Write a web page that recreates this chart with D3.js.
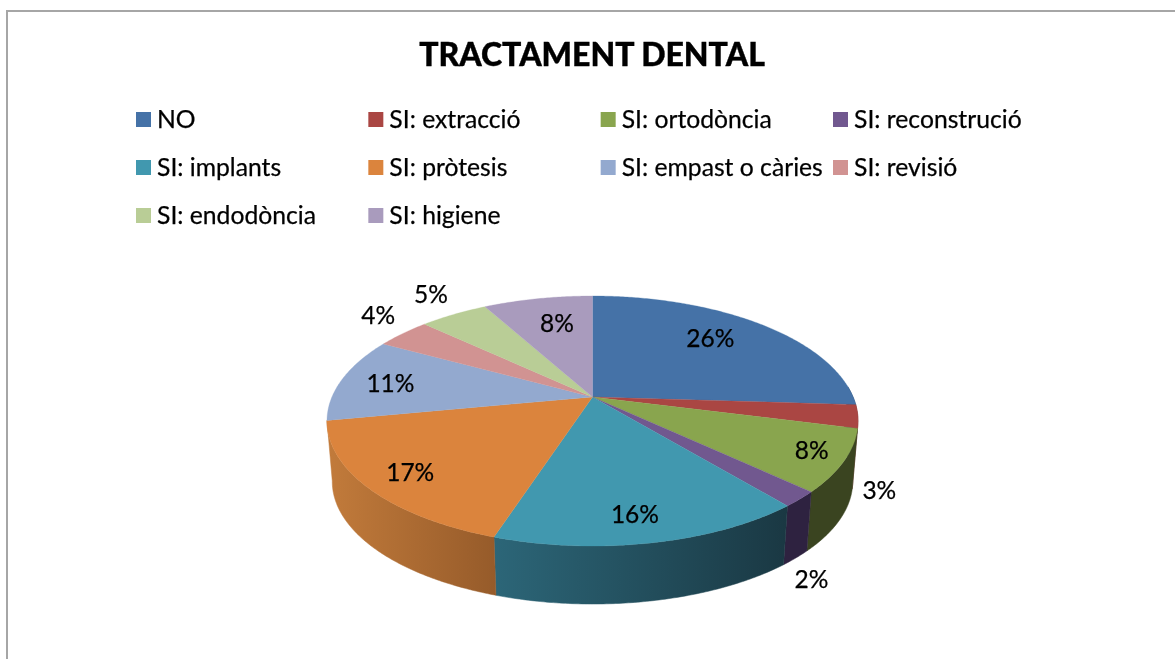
<!DOCTYPE html>
<html>
<head>
<meta charset="utf-8">
<script src="https://cdn.jsdelivr.net/npm/d3@7/dist/d3.min.js"></script>
<style>
html,body{margin:0;padding:0;background:#fff;overflow:hidden}
svg{display:block;filter:blur(0.5px)}
text{font-family:Lato,"Open Sans",sans-serif;fill:#000}
</style>
</head>
<body>
<svg id="c" width="1175" height="659"></svg>
<script>
const title = "TRACTAMENT DENTAL";
const categories = ["NO","SI: extracció","SI: ortodòncia","SI: reconstrució","SI: implants","SI: pròtesis","SI: empast o càries","SI: revisió","SI: endodòncia","SI: higiene"];
const values = [26,3,8,2,16,17,11,4,5,8];
const colors = ["#4572a7","#aa4643","#89a54e","#71588f","#4198af","#db843d","#93a9cf","#d19392","#b9cd96","#a99bbd"];
const wallLeft  = ["#2f4c70","#722f2d","#3a4420","#2e2240","#2c6678","#c27b3b","#6a7a96","#976a69","#86956c","#7a7089"];
const wallRight = ["#2f4c70","#722f2d","#3a4420","#2e2240","#1a3843","#965b2a","#6a7a96","#976a69","#86956c","#7a7089"];
// label layout: radial fraction and pixel nudge
const labelR  = [0.7,1.1,0.9,1.1,0.85,0.85,0.8,1.1,1.1,0.708];
const labelDx = [-4,-6,-5,-13,-7,4,-1,-8,-11,5];
const labelDy = [-5,73,-3,69,-2,0,2,-12,-12,0];

const svg = d3.select("#c");
const defs = svg.append("defs");

// frame
svg.append("path").attr("d","M7,659V11H1175").attr("fill","none").attr("stroke","#a6a6a6").attr("stroke-width",2);

svg.append("text").attr("x",592).attr("y",66).attr("text-anchor","middle")
  .attr("font-size",32).attr("font-weight",900).attr("stroke","#000").attr("stroke-width",0.4).text(title);

// legend
const colX = d3.scaleLinear().domain([0,3]).range([136,833]);
const rowY = d3.scaleLinear().domain([0,2]).range([119.5,215.5]);
const leg = svg.append("g").selectAll("g").data(categories).join("g")
  .attr("transform",(d,i)=>`translate(${colX(i%4)},${rowY(Math.floor(i/4))})`);
leg.append("rect").attr("x",0).attr("y",-7.5).attr("width",15).attr("height",15).attr("fill",(d,i)=>colors[i]);
leg.append("text").attr("x",21).attr("y",8).attr("font-size",24.7).attr("stroke","#000").attr("stroke-width",0.25).text(d=>d);

// perspective projection of the pie disc
const cx=592.5, cy=397, A=260.6, B=120.4, k=0.192, depth=61, shrink=0.98;
function proj(a,r,lower){
  const u=r*Math.sin(a), v=-r*Math.cos(a), den=1-k*v, s=lower?shrink:1;
  return [cx+s*A*u/den, (lower?458:cy)+s*B*v/den];
}
const pie = d3.pie().sort(null).value(d=>d).startAngle(0).endAngle(2*Math.PI);
const arcs = pie(values);
const line = d3.line();
const samples=(a0,a1)=>{const n=Math.max(2,Math.ceil((a1-a0)/0.01));return d3.range(n+1).map(i=>a0+(a1-a0)*i/n);};

// walls
const wallMin=85*Math.PI/180, wallMax=260*Math.PI/180;
arcs.forEach((d,i)=>{
  const a0=Math.max(d.startAngle,wallMin), a1=Math.min(d.endAngle,wallMax);
  if(a1-a0<0.03) return;
  const top=samples(a0,a1).map(a=>proj(a,1,false));
  const bot=samples(a0,a1).reverse().map(a=>proj(a,1,true));
  const pts=top.concat(bot);
  const xs=pts.map(p=>p[0]);
  const id="w"+i;
  const g=defs.append("linearGradient").attr("id",id).attr("gradientUnits","userSpaceOnUse")
    .attr("x1",d3.min(xs)).attr("x2",d3.max(xs)).attr("y1",0).attr("y2",0);
  g.append("stop").attr("offset",0).attr("stop-color",wallLeft[i]);
  g.append("stop").attr("offset",1).attr("stop-color",wallRight[i]);
  svg.append("path").attr("d",line(pts)+"Z").attr("fill",`url(#${id})`).attr("stroke",`url(#${id})`).attr("stroke-width",0.5);
});

// top faces
svg.append("g").selectAll("path").data(arcs).join("path")
  .attr("d",d=>line([[cx,cy]].concat(samples(d.startAngle,d.endAngle).map(a=>proj(a,1,false))))+"Z")
  .attr("fill",(d,i)=>colors[i]).attr("stroke",(d,i)=>colors[i]).attr("stroke-width",0.3);

// labels
const fmt=d3.format(".0%"), total=d3.sum(values);
svg.append("g").selectAll("text").data(arcs).join("text")
  .attr("x",(d,i)=>proj((d.startAngle+d.endAngle)/2,labelR[i],false)[0]+labelDx[i])
  .attr("y",(d,i)=>proj((d.startAngle+d.endAngle)/2,labelR[i],false)[1]+labelDy[i]+8)
  .attr("text-anchor","middle").attr("font-size",24.5).attr("stroke","#000").attr("stroke-width",0.25)
  .text(d=>fmt(d.value/total));
</script>
</body>
</html>
